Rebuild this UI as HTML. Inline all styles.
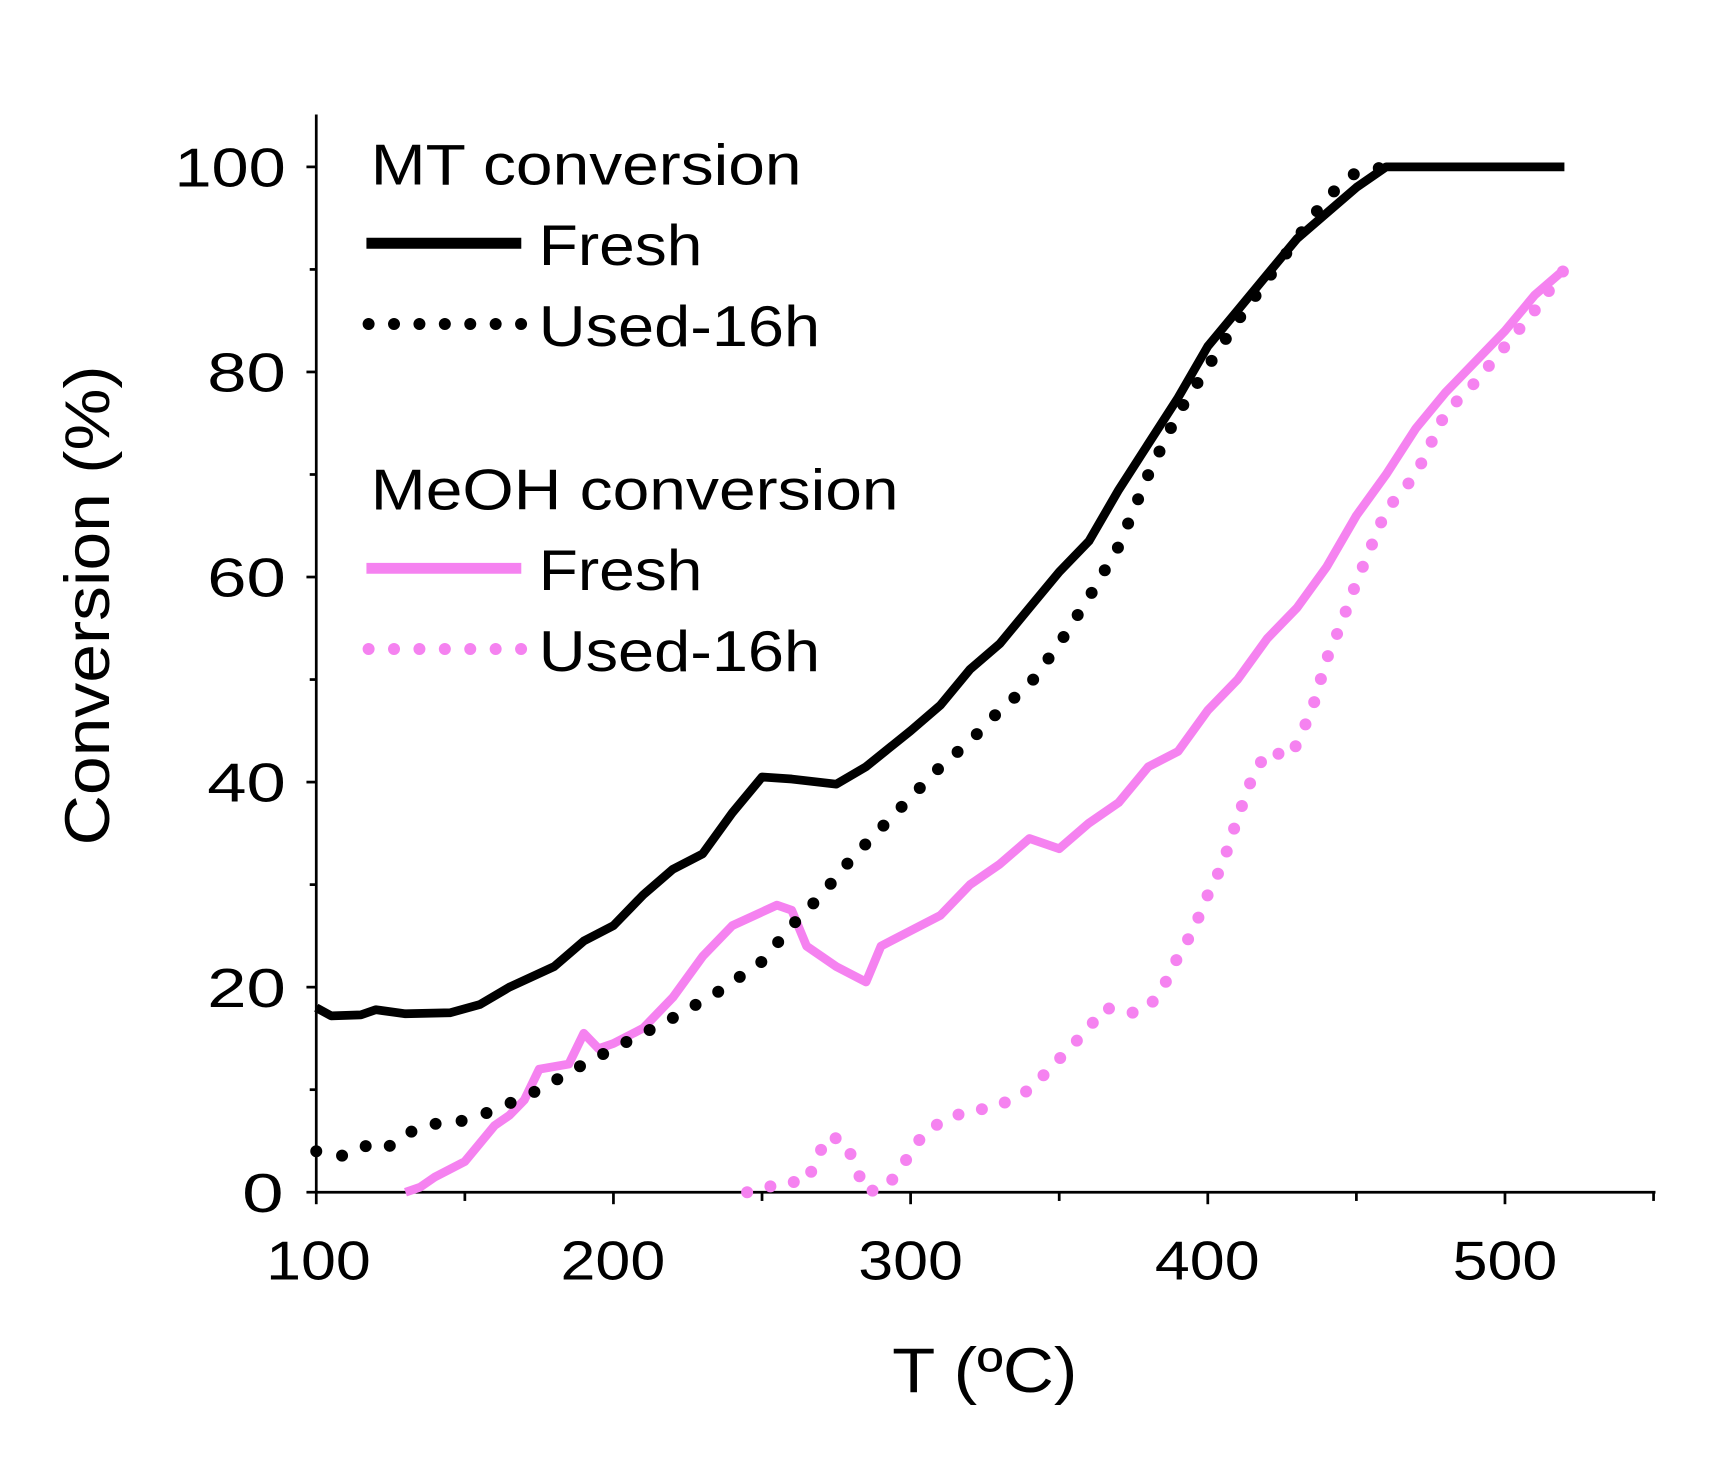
<!DOCTYPE html>
<html><head><meta charset="utf-8"><style>html,body{margin:0;padding:0;background:#fff}svg{display:block}</style></head>
<body>
<svg id="s" width="1710" height="1478" viewBox="0 0 1568 1355" preserveAspectRatio="none" xmlns="http://www.w3.org/2000/svg" font-family="Liberation Sans, sans-serif">
<rect width="1568" height="1355" fill="#fff"/>
<g stroke="#000" stroke-width="2.5" fill="none">
<line x1="290" y1="105" x2="290" y2="1094"/>
<line x1="289" y1="1093" x2="1518" y2="1093"/>
</g>
<g id="ticks" stroke="#000" stroke-width="2.5"></g>
<g font-size="50" fill="#000" lengthAdjust="spacingAndGlyphs">
<text x="222" y="1111" textLength="38" lengthAdjust="spacingAndGlyphs">0</text>
<text x="190" y="923" textLength="72" lengthAdjust="spacingAndGlyphs">20</text>
<text x="190" y="735" textLength="72" lengthAdjust="spacingAndGlyphs">40</text>
<text x="190" y="547" textLength="72" lengthAdjust="spacingAndGlyphs">60</text>
<text x="190" y="359" textLength="72" lengthAdjust="spacingAndGlyphs">80</text>
<text x="160" y="171" textLength="102" lengthAdjust="spacingAndGlyphs">100</text>
<text x="244" y="1173" textLength="96" lengthAdjust="spacingAndGlyphs">100</text>
<text x="514" y="1173" textLength="96" lengthAdjust="spacingAndGlyphs">200</text>
<text x="787" y="1173" textLength="96" lengthAdjust="spacingAndGlyphs">300</text>
<text x="1059" y="1173" textLength="96" lengthAdjust="spacingAndGlyphs">400</text>
<text x="1332" y="1173" textLength="96" lengthAdjust="spacingAndGlyphs">500</text>
</g>
<text x="818" y="1276" font-size="58" textLength="170" lengthAdjust="spacingAndGlyphs">T (ºC)</text>
<text transform="translate(100,775) rotate(-90)" font-size="58" textLength="440" lengthAdjust="spacingAndGlyphs">Conversion (%)</text>
<g font-size="53">
<text x="340" y="169" textLength="395" lengthAdjust="spacingAndGlyphs">MT conversion</text>
<text x="494" y="243" textLength="150" lengthAdjust="spacingAndGlyphs">Fresh</text>
<text x="494" y="317" textLength="258" lengthAdjust="spacingAndGlyphs">Used-16h</text>
<text x="340" y="467" textLength="484" lengthAdjust="spacingAndGlyphs">MeOH conversion</text>
<text x="494" y="541" textLength="150" lengthAdjust="spacingAndGlyphs">Fresh</text>
<text x="494" y="615" textLength="258" lengthAdjust="spacingAndGlyphs">Used-16h</text>
</g>
<line x1="336" y1="223" x2="478" y2="223" stroke="#000" stroke-width="10"/>
<line x1="338" y1="297" x2="478" y2="297" stroke="#000" stroke-width="11" stroke-linecap="round" stroke-dasharray="0 23.3"/>
<line x1="336" y1="521" x2="478" y2="521" stroke="#f582f0" stroke-width="10"/>
<line x1="338" y1="595" x2="478" y2="595" stroke="#f582f0" stroke-width="11" stroke-linecap="round" stroke-dasharray="0 23.3"/>
<g id="series"></g>
</svg>
<script>
var X=t=>290+(t-100)*2.725, Y=c=>1093-c*9.4;
var tk=document.getElementById('ticks'),h='';
for(var c=0;c<=100;c+=10){var y=Y(c);h+='<line x1="'+(c%20?284:281)+'" y1="'+y+'" x2="290" y2="'+y+'"/>';}
for(var t=100;t<=550;t+=50){var x=X(t);h+='<line x1="'+x+'" y1="1093" x2="'+x+'" y2="'+(t%100?1101:1104)+'"/>';}
tk.innerHTML=h;
function P(a){return a.map((p,i)=>(i?'L':'M')+X(p[0]).toFixed(1)+' '+Y(p[1]).toFixed(1)).join(' ');}
var mf=[[100,18],[105,17.2],[115,17.3],[120,17.8],[130,17.4],[145,17.5],[155,18.3],[165,20],[180,22],[190,24.5],[200,26],[210,29],[220,31.5],[230,33],[240,37],[250,40.5],[260,40.3],[275,39.8],[285,41.5],[300,45],[310,47.5],[320,51],[330,53.5],[340,57],[350,60.5],[360,63.5],[370,68.5],[380,73],[390,77.5],[400,82.5],[410,86],[420,89.5],[430,93],[440,95.5],[450,98],[460,100],[520,100]];
var mu=[[100,4],[110,3.5],[120,5],[125,4.5],[135,6.5],[150,7],[160,8],[175,10],[190,12.5],[200,14],[210,15.5],[220,17],[235,19.5],[250,22.5],[260,26],[270,29],[280,32.5],[290,35.5],[300,38.5],[310,41.5],[320,44],[330,47],[340,49.5],[350,53.5],[360,58],[370,63],[380,70],[390,76],[400,80.5],[410,85],[420,89],[430,93],[440,97],[450,99.5],[460,100]];
var ef=[[130,0],[135,0.5],[140,1.5],[150,3],[160,6.5],[165,7.5],[170,9],[175,12],[185,12.5],[190,15.5],[195,14],[200,14.5],[210,16],[220,19],[230,23],[240,26],[255,28],[260,27.5],[265,24],[275,22],[285,20.5],[290,24],[300,25.5],[310,27],[320,30],[330,32],[340,34.5],[350,33.5],[360,36],[370,38],[380,41.5],[390,43],[400,47],[410,50],[420,54],[430,57],[440,61],[450,66],[460,70],[470,74.5],[480,78],[490,81],[500,84],[510,87.5],[520,90]];
var eu=[[245,0],[252,0.5],[258,1],[265,1],[272,5.5],[278,5],[285,0],[292,0.5],[297,2.5],[305,6],[315,7.5],[330,8.5],[340,10],[350,13],[360,16],[365,18],[375,17.5],[380,18],[385,20],[390,23],[395,25.5],[400,29],[405,32],[410,36.5],[415,40.5],[420,43],[428,42.5],[435,47],[440,52],[445,55.5],[450,59.5],[455,63],[460,66.5],[470,70],[480,76],[490,79],[500,82.5],[510,86],[520,90]];
document.getElementById('series').innerHTML=
'<path d="'+P(ef)+'" fill="none" stroke="#f582f0" stroke-width="8" stroke-linejoin="round"/>'+
'<path d="'+P(eu)+'" fill="none" stroke="#f582f0" stroke-width="11" stroke-linecap="round" stroke-dasharray="0 22"/>'+
'<path d="'+P(mu)+'" fill="none" stroke="#000" stroke-width="11" stroke-linecap="round" stroke-dasharray="0 24"/>'+
'<path d="'+P(mf)+'" fill="none" stroke="#000" stroke-width="8" stroke-linejoin="round"/>';
</script>
</body></html>
